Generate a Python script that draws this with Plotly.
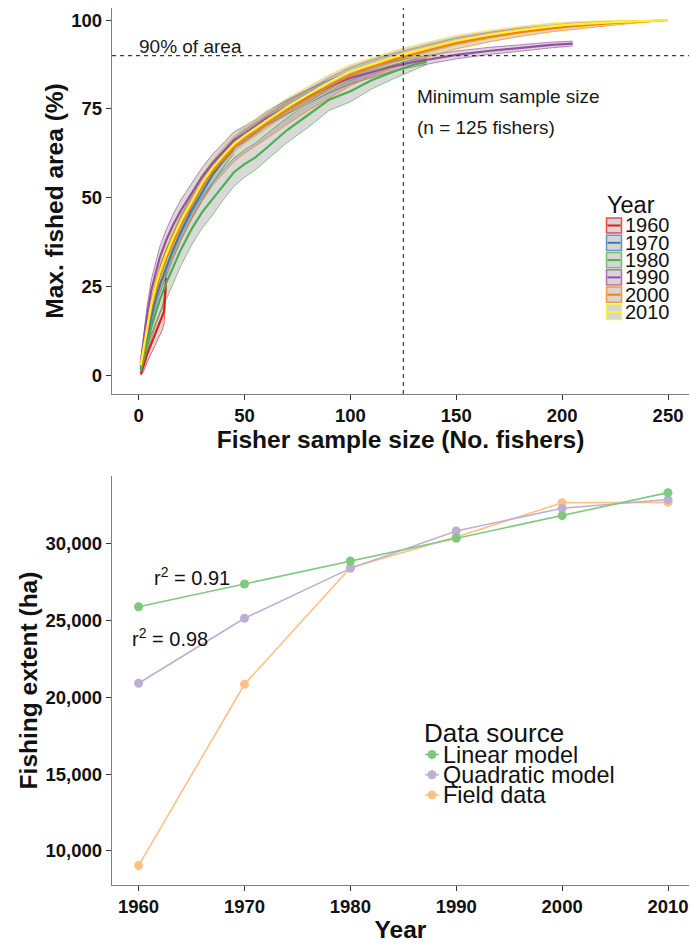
import numpy as np
import plotly.graph_objects as go

# ---------------- Panel A: accumulation curves ----------------
# x = number of fishers sampled, mean = max. fished area (%), gaps = ribbon width below / above the mean
X_1960 = [1, 2, 3, 4, 5, 6, 7, 8, 9, 10, 11, 12, 13]
MEAN_1960 = [0.4, 2, 4, 6, 7.5, 9, 10.5, 12, 13.3, 14.5, 16, 18, 27.5]
LOW_GAP_1960 = [0.4, 1.2, 1.8, 2.2, 2.5, 2.7, 2.9, 3, 3.1, 3.2, 3.4, 3.5, 3]
HIGH_GAP_1960 = [0.8, 1.4, 2, 2.2, 2.5, 2.6, 2.7, 2.8, 2.9, 3, 3.2, 3.5, 2]

X_1970 = [1, 2, 4, 6, 8, 10, 13, 16, 20, 25, 30, 35, 40, 45]
MEAN_1970 = [1.8, 4.5, 10.5, 16.5, 21.5, 25.5, 30.5, 35, 40.5, 46.5, 51.5, 56.5, 60.5, 64]
LOW_GAP_1970 = [0.6, 1, 1.6, 2, 2.2, 2.4, 2.5, 2.5, 2.5, 2.5, 2.4, 2.3, 2, 1.5]
HIGH_GAP_1970 = [0.6, 1, 1.6, 2, 2.2, 2.4, 2.5, 2.5, 2.5, 2.5, 2.4, 2.3, 2, 1.5]

X_1980 = [1, 2, 4, 6, 8, 10, 13, 16, 20, 25, 30, 35, 40, 45, 50, 55, 60, 70, 80, 90,
          100, 110, 120, 130, 136]
MEAN_1980 = [1, 3.5, 9, 13.5, 17.5, 21.2, 26, 30.3, 35.5, 41.2, 46, 49.7, 53.5, 57.2, 59.5,
             61.3, 63.8, 69, 73.3, 77.6, 80, 83.1, 85.4, 87.5, 88.3]
LOW_GAP_1980 = [0.7, 1.5, 2.5, 3, 3.5, 4, 4.5, 4.5, 4.5, 4.5, 4.5, 4.5, 4, 4, 3.7,
                3.5, 3.5, 3.5, 3.5, 3, 3, 2.5, 2, 1.5, 0.8]
HIGH_GAP_1980 = [1, 2, 3, 3.5, 3.5, 4, 4.5, 4.5, 4.5, 4.5, 4.5, 4.5, 4.5, 4, 4,
                 4, 4, 3.5, 3.5, 3, 3, 2.5, 2, 1.5, 0.9]

X_LONG = [1, 2, 4, 6, 8, 10, 13, 16, 20, 25, 30, 35, 40, 45, 50, 55, 60, 70, 80, 90,
          100, 110, 120, 130, 140, 150, 165, 180, 195, 205, 225, 250]

X_1990 = X_LONG[:30]
MEAN_1990 = [3.5, 8, 17, 24, 29, 33.2, 38, 42, 46.5, 51.3, 56, 59.8, 63, 66.2, 68,
             70, 72.2, 75.5, 78.5, 81.3, 83.7, 85.4, 87, 88.2, 89.3, 90.2, 91.3, 92.2, 93, 93.4]
LOW_GAP_1990 = [1, 1.5, 2.5, 3, 3, 3, 3, 3, 3, 2.8, 2.5, 2.5, 2.5, 2.3, 2.2,
                2, 2, 2, 2, 1.8, 1.7, 1.5, 1.4, 1.3, 1.2, 1.1, 1, 0.9, 0.8, 0.7]
HIGH_GAP_1990 = [1, 1.5, 2.5, 3, 3, 3, 3, 3, 3, 2.8, 2.5, 2.5, 2.5, 2.3, 2.2,
                 2, 2, 2, 2, 1.8, 1.7, 1.5, 1.4, 1.3, 1.2, 1.1, 1, 0.9, 0.8, 0.7]

X_2000 = X_LONG
MEAN_2000 = [2.5, 5.5, 12.5, 19, 24, 28.2, 33, 37.3, 42.5, 48, 53.2, 57.5, 61, 64.2, 66.5,
             68.4, 70.5, 74.6, 78, 81.5, 84.5, 86.8, 88.8, 90.5, 92, 93.5, 95.2, 96.6, 97.7,
             98.3, 99.2, 100]
LOW_GAP_2000 = [1, 1.5, 2.5, 3, 3.5, 4, 4, 4, 4, 4, 4, 4, 4, 4, 4, 4, 4, 4, 3.5, 3.5,
                3, 2.5, 2.2, 2, 1.8, 1.6, 1.4, 1.2, 1, 0.9, 0.6, 0]
HIGH_GAP_2000 = [1, 1.5, 2, 2.5, 2.5, 2.5, 2.5, 2.5, 2.5, 2.5, 2.5, 2.5, 2.5, 2.5, 2.5,
                 2.5, 2.5, 2.5, 2.5, 2.3, 2.2, 2, 1.8, 1.7, 1.6, 1.5, 1.3, 1.1, 0.9, 0.8, 0.5, 0]

X_2010 = X_LONG
MEAN_2010 = [3, 6.5, 13.5, 20, 25, 29.2, 34, 38.4, 43.5, 49, 54.2, 58.5, 62, 65.1, 67.5,
             69.5, 71.6, 75.5, 79, 82.5, 85.5, 87.5, 89.5, 91.2, 92.8, 94.2, 95.8, 97.2,
             98.3, 98.8, 99.4, 100]
LOW_GAP_2010 = [1, 1.5, 2, 2.5, 2.5, 2.5, 2.5, 2.5, 2.5, 2.5, 2.5, 2.5, 2.5, 2.5, 2.5,
                2.5, 2.5, 2.5, 2.3, 2.2, 2, 1.9, 1.8, 1.7, 1.6, 1.5, 1.3, 1.1, 0.9, 0.8, 0.5, 0]
HIGH_GAP_2010 = LOW_GAP_2010

YEAR_LABELS = ["1960", "1970", "1980", "1990", "2000", "2010"]
YEAR_COLORS = ["#E41A1C", "#377EB8", "#4DAF4A", "#984EA3", "#FF7F00", "#FFF033"]

CURVES = [
    (X_1960, MEAN_1960, LOW_GAP_1960, HIGH_GAP_1960),
    (X_1970, MEAN_1970, LOW_GAP_1970, HIGH_GAP_1970),
    (X_1980, MEAN_1980, LOW_GAP_1980, HIGH_GAP_1980),
    (X_1990, MEAN_1990, LOW_GAP_1990, HIGH_GAP_1990),
    (X_2000, MEAN_2000, LOW_GAP_2000, HIGH_GAP_2000),
    (X_2010, MEAN_2010, LOW_GAP_2010, HIGH_GAP_2010),
]

# ---------------- Panel B: fishing extent by decade ----------------
DECADES = [1960, 1970, 1980, 1990, 2000, 2010]
LINEAR_MODEL = [25900, 27380, 28880, 30360, 31830, 33330]
QUADRATIC_MODEL = [20920, 25150, 28400, 30830, 32310, 32880]
FIELD_DATA = [9050, 20850, 28450, 30450, 32670, 32700]
SOURCE_LABELS = ["Linear model", "Quadratic model", "Field data"]
SOURCE_COLORS = ["#7FC97F", "#BEAED4", "#FDC086"]

FONT = "Liberation Sans, Arial, sans-serif"
W, H = 690, 943
ML, MR, MT, MB = 112, 1, 8, 58


def rgba(hex_color, a):
    h = hex_color.lstrip("#")
    r, g, b = int(h[0:2], 16), int(h[2:4], 16), int(h[4:6], 16)
    return f"rgba({r},{g},{b},{a})"


def paper_x(px):
    return (px - ML) / (W - ML - MR)


def paper_y(py):
    return (H - MB - py) / (H - MT - MB)


fig = go.Figure()

# ribbons (grey band with coloured edges)
for (xs, mean, lo_gap, hi_gap), col in zip(CURVES, YEAR_COLORS):
    m = np.array(mean, dtype=float)
    lo = np.clip(m - np.array(lo_gap), 0, 100)
    hi = np.clip(m + np.array(hi_gap), 0, 100)
    fig.add_trace(go.Scatter(x=xs, y=lo, mode="lines", xaxis="x", yaxis="y",
                             line=dict(color=rgba(col, 0.65), width=1),
                             showlegend=False, hoverinfo="skip"))
    fig.add_trace(go.Scatter(x=xs, y=hi, mode="lines", xaxis="x", yaxis="y",
                             fill="tonexty", fillcolor="rgba(110,110,110,0.26)",
                             line=dict(color=rgba(col, 0.65), width=1),
                             showlegend=False, hoverinfo="skip"))

# mean curves
for (xs, mean, _, _), col, lab in zip(CURVES, YEAR_COLORS, YEAR_LABELS):
    fig.add_trace(go.Scatter(x=xs, y=mean, mode="lines", xaxis="x", yaxis="y",
                             line=dict(color=col, width=2.2), name=lab, showlegend=False))

# fishing extent series (field data drawn first, linear model on top)
for ys, col, lab in [(FIELD_DATA, SOURCE_COLORS[2], SOURCE_LABELS[2]),
                     (QUADRATIC_MODEL, SOURCE_COLORS[1], SOURCE_LABELS[1]),
                     (LINEAR_MODEL, SOURCE_COLORS[0], SOURCE_LABELS[0])]:
    fig.add_trace(go.Scatter(x=DECADES, y=ys, mode="lines+markers", xaxis="x2", yaxis="y2",
                             line=dict(color=col, width=1.6),
                             marker=dict(color=col, size=9),
                             name=lab, showlegend=False))

tick_font = dict(family=FONT, size=18.5, color="#111111", weight="bold")
title_font = dict(family=FONT, size=24.5, color="#111111", weight="bold")
axis_common = dict(showline=True, linecolor="#808080", linewidth=1.3,
                   ticks="outside", ticklen=5, tickwidth=1.1, tickcolor="#333333",
                   showgrid=False, zeroline=False, tickfont=tick_font, automargin=False)

fig.update_layout(
    width=W, height=H,
    margin=dict(l=ML, r=MR, t=MT, b=MB),
    template="none",
    plot_bgcolor="white", paper_bgcolor="white",
    showlegend=False,
    xaxis=dict(domain=[0, 1], anchor="y", range=[-12.56, 259.9],
               tickvals=[0, 50, 100, 150, 200, 250],
               title=dict(text="Fisher sample size (No. fishers)", font=title_font, standoff=4),
               **axis_common),
    yaxis=dict(domain=[paper_y(394), 1], anchor="x", range=[-5.18, 103.4],
               tickvals=[0, 25, 50, 75, 100],
               title=dict(text="Max. fished area (%)", font=title_font, standoff=0),
               **axis_common),
    xaxis2=dict(domain=[0, 1], anchor="y2", range=[1957.49, 2011.98],
                tickvals=DECADES,
                title=dict(text="Year", font=title_font, standoff=5),
                **axis_common),
    yaxis2=dict(domain=[0, paper_y(476)], anchor="x2", range=[7786, 34414],
                tickvals=[10000, 15000, 20000, 25000, 30000], tickformat=",",
                title=dict(text="Fishing extent (ha)", font=title_font, standoff=0),
                **axis_common),
)

# reference lines: 90 % of area and minimum sample size
dash_line = dict(color="#3a3a3a", width=1.2, dash="4px,4px")
fig.add_shape(type="line", xref="paper", yref="y", x0=0, x1=1, y0=90, y1=90, line=dash_line)
fig.add_shape(type="line", xref="x", yref="y domain", x0=125, x1=125, y0=0, y1=1, line=dash_line)

note_font = dict(family=FONT, size=19, color="#1a1a1a")
fig.add_annotation(x=-0.8, y=92.6, xref="x", yref="y", text="90% of area", showarrow=False,
                   xanchor="left", yanchor="middle", font=note_font)
fig.add_annotation(x=130.5, y=78.4, xref="x", yref="y", text="Minimum sample size",
                   showarrow=False, xanchor="left", yanchor="middle", font=note_font)
fig.add_annotation(x=130.5, y=69.9, xref="x", yref="y", text="(n = 125 fishers)",
                   showarrow=False, xanchor="left", yanchor="middle", font=note_font)

r2_font = dict(family=FONT, size=20, color="#111111")
fig.add_annotation(x=1961.25, y=27900, xref="x2", yref="y2", text="r<sup>2</sup> = 0.91",
                   showarrow=False, xanchor="left", yanchor="middle", font=r2_font)
fig.add_annotation(x=1959.2, y=23930, xref="x2", yref="y2", text="r<sup>2</sup> = 0.98",
                   showarrow=False, xanchor="left", yanchor="middle", font=r2_font)

# legend for the accumulation curves
fig.add_annotation(x=paper_x(605), y=paper_y(205), xref="paper", yref="paper", text="Year",
                   showarrow=False, xanchor="left", yanchor="middle",
                   font=dict(family=FONT, size=23.5, color="#111111"))
for i, (lab, col) in enumerate(zip(YEAR_LABELS, YEAR_COLORS)):
    cy = 225.5 + 17.3 * i
    fig.add_shape(type="rect", xref="paper", yref="paper",
                  x0=paper_x(606.5), x1=paper_x(621.5), y0=paper_y(cy + 7.6), y1=paper_y(cy - 7.6),
                  fillcolor="#d6d6d6", line=dict(color=rgba(col, 0.75), width=1.5))
    fig.add_shape(type="line", xref="paper", yref="paper",
                  x0=paper_x(607.5), x1=paper_x(620.5), y0=paper_y(cy), y1=paper_y(cy),
                  line=dict(color=col, width=2))
    fig.add_annotation(x=paper_x(622.5), y=paper_y(cy), xref="paper", yref="paper", text=lab,
                       showarrow=False, xanchor="left", yanchor="middle",
                       font=dict(family=FONT, size=20, color="#111111"))

# legend for the fishing extent panel
fig.add_annotation(x=paper_x(422), y=paper_y(733), xref="paper", yref="paper", text="Data source",
                   showarrow=False, xanchor="left", yanchor="middle",
                   font=dict(family=FONT, size=26, color="#111111"))
for i, (lab, col) in enumerate(zip(SOURCE_LABELS, SOURCE_COLORS)):
    cy = 754.5 + 20.2 * i
    fig.add_shape(type="line", xref="paper", yref="paper",
                  x0=paper_x(425), x1=paper_x(439), y0=paper_y(cy), y1=paper_y(cy),
                  line=dict(color=col, width=1.6))
    fig.add_shape(type="circle", xref="paper", yref="paper",
                  x0=paper_x(427.5), x1=paper_x(436.5), y0=paper_y(cy + 4.5), y1=paper_y(cy - 4.5),
                  fillcolor=col, line=dict(width=0))
    fig.add_annotation(x=paper_x(441), y=paper_y(cy), xref="paper", yref="paper", text=lab,
                       showarrow=False, xanchor="left", yanchor="middle",
                       font=dict(family=FONT, size=23.4, color="#111111"))

fig.write_html("out.html")
